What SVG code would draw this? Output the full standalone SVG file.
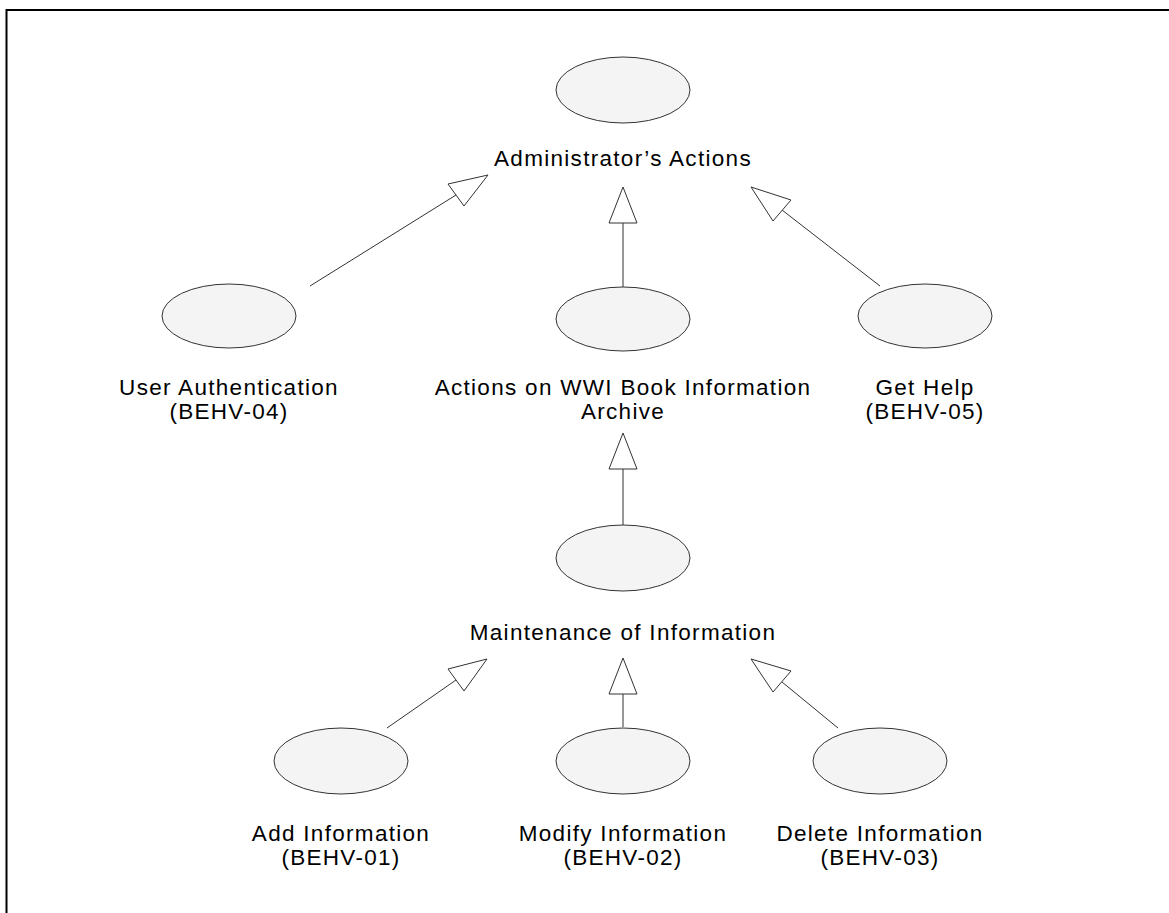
<svg xmlns="http://www.w3.org/2000/svg" width="1169" height="913" viewBox="0 0 1169 913">
<style>
.uc{fill:#f4f4f4;stroke:#333;stroke-width:1}
.lbl{font-family:"Liberation Sans",Arial,sans-serif;font-size:22.5px;fill:#000;text-anchor:middle;letter-spacing:1.3px}
.edge{stroke:#333;stroke-width:1;fill:none}
.head{fill:#fff;stroke:#333;stroke-width:1}
</style>
<rect x="0" y="0" width="1169" height="913" fill="#fff"/>
<path d="M6.5 913 V10 H1169" fill="none" stroke="#000" stroke-width="2"/>
<g id="connectors">
<line class="edge" x1="310" y1="286" x2="456" y2="195"/>
<polygon class="head" points="488,175 448,184 464,206"/>
<line class="edge" x1="623" y1="287" x2="623" y2="223"/>
<polygon class="head" points="623,187 609,223 637,223"/>
<line class="edge" x1="880" y1="286" x2="782" y2="210"/>
<polygon class="head" points="751,187 791,200 773,221"/>
<line class="edge" x1="623" y1="525" x2="623" y2="469"/>
<polygon class="head" points="623,433 609,469 637,469"/>
<line class="edge" x1="387" y1="728" x2="456" y2="680"/>
<polygon class="head" points="487,659 448,669 464,691"/>
<line class="edge" x1="623" y1="727" x2="623" y2="694"/>
<polygon class="head" points="623,658 609,694 637,694"/>
<line class="edge" x1="838" y1="728" x2="782" y2="682"/>
<polygon class="head" points="751,659 791,671 773,692"/>
</g>
<g id="admin"><ellipse class="uc" cx="623" cy="90" rx="67" ry="33"/><text class="lbl" x="623" y="166">Administrator’s Actions</text></g>
<g id="auth"><ellipse class="uc" cx="229" cy="316" rx="67" ry="32"/><text class="lbl" x="229" y="395">User Authentication</text><text class="lbl" x="229" y="419">(BEHV-04)</text></g>
<g id="archive"><ellipse class="uc" cx="623" cy="319" rx="67" ry="32"/><text class="lbl" x="623" y="395">Actions on WWI Book Information</text><text class="lbl" x="623" y="419">Archive</text></g>
<g id="help"><ellipse class="uc" cx="925" cy="316" rx="67" ry="32"/><text class="lbl" x="925" y="395">Get Help</text><text class="lbl" x="925" y="419">(BEHV-05)</text></g>
<g id="maint"><ellipse class="uc" cx="623" cy="558" rx="67" ry="33"/><text class="lbl" x="623" y="640">Maintenance of Information</text></g>
<g id="add"><ellipse class="uc" cx="341" cy="761" rx="67" ry="33"/><text class="lbl" x="341" y="841">Add Information</text><text class="lbl" x="341" y="865">(BEHV-01)</text></g>
<g id="modify"><ellipse class="uc" cx="623" cy="761" rx="67" ry="33"/><text class="lbl" x="623" y="841">Modify Information</text><text class="lbl" x="623" y="865">(BEHV-02)</text></g>
<g id="delete"><ellipse class="uc" cx="880" cy="761" rx="67" ry="33"/><text class="lbl" x="880" y="841">Delete Information</text><text class="lbl" x="880" y="865">(BEHV-03)</text></g>
</svg>
